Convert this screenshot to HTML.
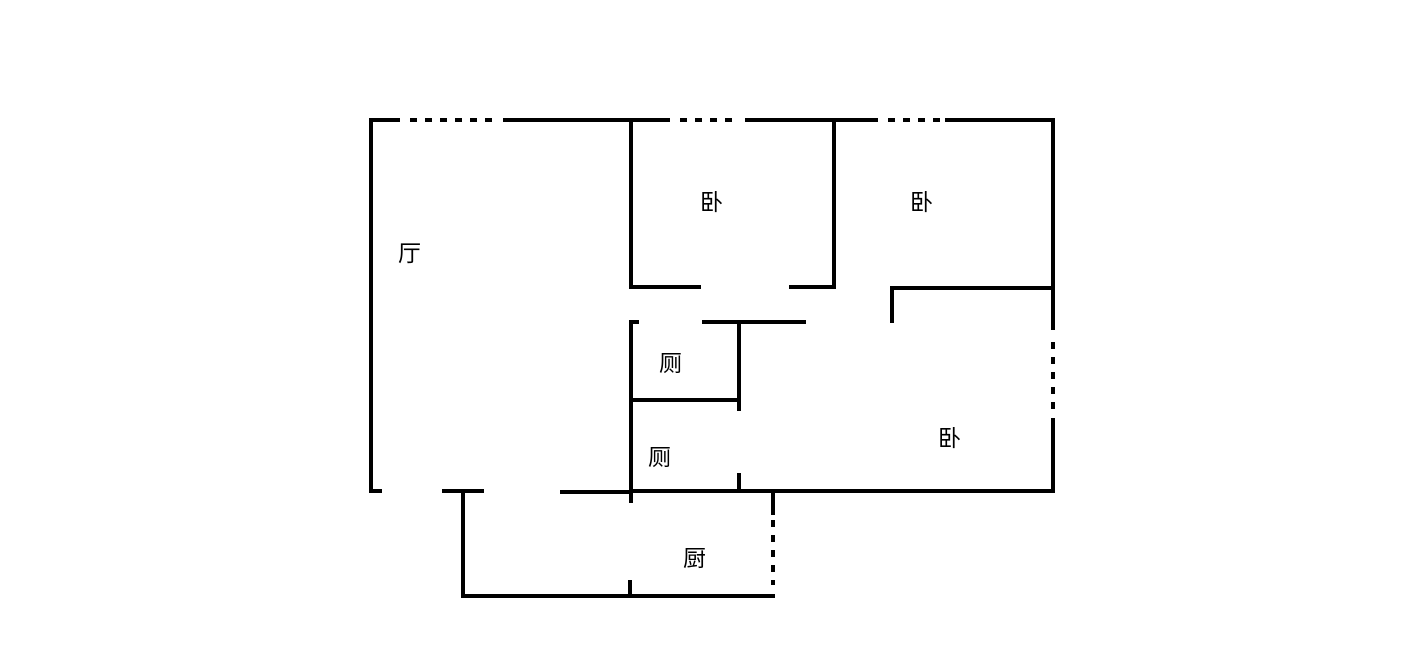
<!DOCTYPE html><html><head><style>body{margin:0;background:#fff}svg{display:block}text{font-family:"Liberation Sans","Noto Sans CJK SC",sans-serif;font-size:23px;fill:#000}</style></head><body>
<svg width="1419" height="656" viewBox="0 0 1419 656">
<g stroke="#000" stroke-width="4" fill="none">
<path d="M369 120H400M503 120H670M745 120H878M945 120H1055"/>
<path d="M410 120H500M680 120H740M888 120H940" stroke-dasharray="7,8"/>
<path d="M371 118V493M369 491H382M442 491H484M560 492H630M630 491H1055"/>
<path d="M1053 118V330M1053 418V493"/>
<path d="M1053 342V410M773 520V585" stroke-dasharray="7,8"/>
<path d="M631 120V289M629 287H701M789 287H836M834 120V289"/>
<path d="M890 288H1055M892 286V323"/>
<path d="M629 322H639M702 322H806M631 320V503M739 322V411M629 400H741M739 473V491"/>
<path d="M773 493V515M463 489V598M461 596H775M630 580V596"/>
</g>
<text x="398" y="261">厅</text>
<text x="700" y="210">卧</text>
<text x="910" y="210">卧</text>
<text x="938" y="446">卧</text>
<text x="659" y="371">厕</text>
<text x="648" y="465">厕</text>
<text x="683" y="566">厨</text>
</svg></body></html>
